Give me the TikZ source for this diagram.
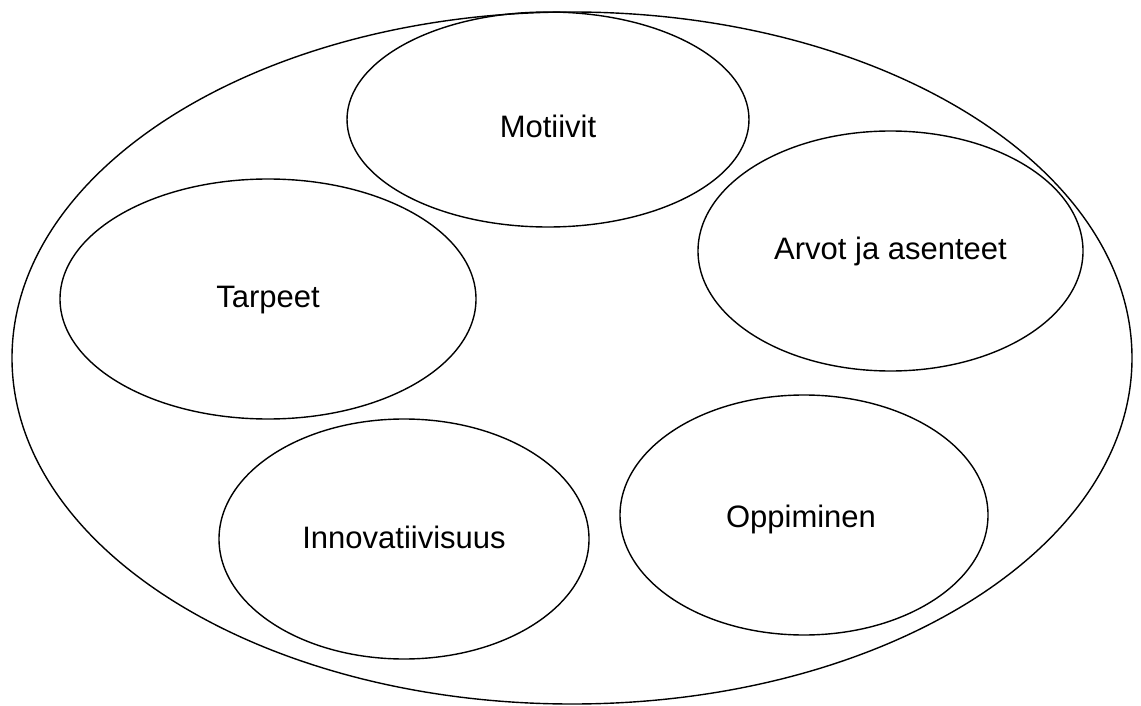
\documentclass[tikz,border=0pt]{standalone}
\usepackage{fontspec}
\setmainfont{Liberation Sans}
\usetikzlibrary{shapes.geometric}
\begin{document}
\begin{tikzpicture}[x=1pt,y=-1pt,
  oval/.style={draw=black, line width=1.4pt, ellipse, inner sep=0pt},
  lbl/.style={font=\fontsize{31}{37}\selectfont, inner sep=0pt}]
\useasboundingbox (0,0) rectangle (1141,706);
\node[oval, minimum width=1120pt, minimum height=692pt] (outer) at (572,358) {};
\node[oval, minimum width=402pt, minimum height=215pt] (mot) at (548,119.5) {};
\node[oval, minimum width=385pt, minimum height=240pt] (arv) at (890.5,251) {};
\node[oval, minimum width=416pt, minimum height=240pt] (tar) at (268,299) {};
\node[oval, minimum width=370pt, minimum height=240pt] (inn) at (404,539) {};
\node[oval, minimum width=368pt, minimum height=240pt] (opp) at (804,515) {};
\node[lbl, yshift=-7pt] (motT) at (mot.center) {Motiivit};
\node[lbl] (arvT) at (arv.center) {Arvot ja asenteet};
\node[lbl, yshift=-1pt] (tarT) at (tar.center) {Tarpeet};
\node[lbl, yshift=2pt] (innT) at (inn.center) {Innovatiivisuus};
\node[lbl, xshift=-3pt, yshift=-4pt] (oppT) at (opp.center) {Oppiminen};
\end{tikzpicture}
\end{document}
